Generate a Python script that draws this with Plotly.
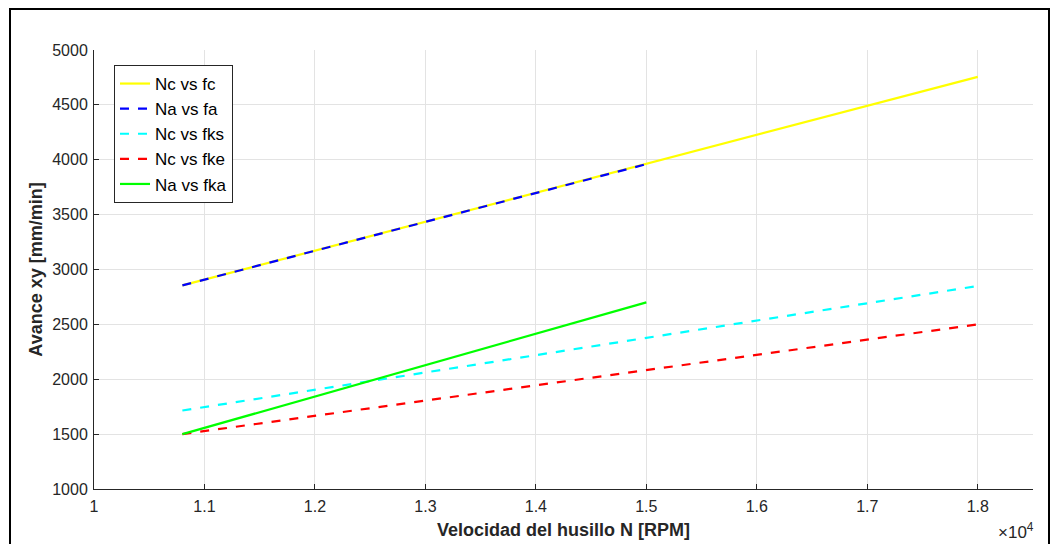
import plotly.graph_objects as go

# Data
Nc = [10800, 18000]
Na = [10800, 15000]
fc = [2855, 4755]
fa = [2855, 3960]
fks = [1715, 2850]
fke = [1500, 2500]
fka = [1500, 2700]

xtick_vals = [10000, 11000, 12000, 13000, 14000, 15000, 16000, 17000, 18000]
xtick_text = ["1", "1.1", "1.2", "1.3", "1.4", "1.5", "1.6", "1.7", "1.8"]
ytick_vals = [1000, 1500, 2000, 2500, 3000, 3500, 4000, 4500, 5000]

series = [
    ("Nc vs fc", Nc, fc, "#FFFF00", "solid"),
    ("Na vs fa", Na, fa, "#0000FF", "dash"),
    ("Nc vs fks", Nc, fks, "#00FFFF", "dash"),
    ("Nc vs fke", Nc, fke, "#FF0000", "dash"),
    ("Na vs fka", Na, fka, "#00FF00", "solid"),
]

fig = go.Figure()
for name, x, y, c, d in series:
    fig.add_trace(go.Scatter(x=x, y=y, mode="lines", name=name,
                             line=dict(color=c, width=2.2, dash=d)))

L, R, T, B = 94, 22, 50, 55
W, H = 1055, 544
pw, ph = W - L - R, H - T - B

def px2x(px):
    return (px - L) / pw

def py2y(py):
    return (H - B - py) / ph

fig.update_layout(
    width=W, height=H,
    margin=dict(l=L, r=R, t=T, b=B),
    paper_bgcolor="white", plot_bgcolor="white",
    font=dict(family="Liberation Sans, Arial, sans-serif", color="#262626", size=16),
    showlegend=True,
    legend=dict(x=px2x(114), y=py2y(65), xanchor="left", yanchor="top",
                bgcolor="white", bordercolor="#262626", borderwidth=1,
                font=dict(size=17, color="#000000"), tracegroupgap=0,
                itemwidth=30),
    xaxis=dict(range=[10000, 18500], tickvals=xtick_vals, ticktext=xtick_text,
               showgrid=True, gridcolor="#E3E3E3", gridwidth=1,
               showline=True, linecolor="#262626", linewidth=1,
               ticks="inside", ticklen=5, tickcolor="#262626",
               ticklabelstandoff=3,
               zeroline=False, mirror=False, automargin=False,
               title=dict(text="<b>Velocidad del husillo N [RPM]</b>", font=dict(size=18), standoff=9)),
    yaxis=dict(range=[1000, 5000], tickvals=ytick_vals,
               showgrid=True, gridcolor="#E3E3E3", gridwidth=1,
               showline=True, linecolor="#262626", linewidth=1,
               ticks="inside", ticklen=5, tickcolor="#262626",
               ticklabelstandoff=2,
               zeroline=False, mirror=False, automargin=False,
               title=dict(text="<b>Avance xy [mm/min]</b>", font=dict(size=18), standoff=4)),
)

fig.add_annotation(xref="paper", yref="paper", x=px2x(1036), y=py2y(531),
                   xanchor="right", yanchor="middle", showarrow=False,
                   text="×10<sup>4</sup>", font=dict(size=17, color="#262626"))

fig.add_shape(type="rect", xref="paper", yref="paper",
              x0=px2x(10), x1=px2x(1049), y0=py2y(560), y1=py2y(9),
              line=dict(color="#000000", width=2), fillcolor="rgba(0,0,0,0)", layer="above")

fig.write_html("out.html", config={"displayModeBar": False},
               post_script="document.body.style.margin='0';document.body.style.overflow='hidden';")
